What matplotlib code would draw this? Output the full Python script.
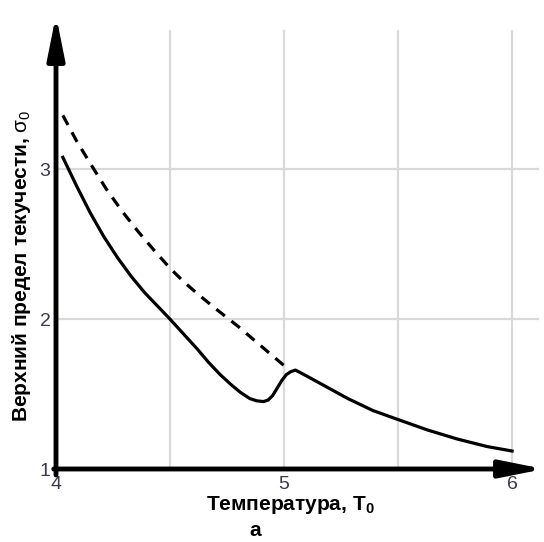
import matplotlib
matplotlib.use("Agg")
import matplotlib.pyplot as plt

# solid curve (upper yield stress)
solid_x = [4.03, 4.09, 4.15, 4.21, 4.27, 4.33, 4.39, 4.45, 4.5, 4.56, 4.62, 4.67, 4.72,
           4.77, 4.81, 4.85, 4.88, 4.91, 4.93, 4.95, 4.97, 4.99, 5.01, 5.03, 5.05,
           5.1, 5.16, 5.22, 5.28, 5.39, 5.5, 5.63, 5.76, 5.89, 6.0]
solid_y = [3.08, 2.89, 2.71, 2.55, 2.41, 2.285, 2.175, 2.08, 2.0, 1.90, 1.80, 1.71, 1.63,
           1.56, 1.51, 1.47, 1.455, 1.45, 1.46, 1.49, 1.54, 1.59, 1.63, 1.65, 1.66,
           1.62, 1.57, 1.52, 1.47, 1.39, 1.33, 1.26, 1.20, 1.15, 1.12]

# dashed curve
dashed_x = [4.03, 4.09, 4.15, 4.22, 4.29, 4.36, 4.43, 4.5, 4.56, 4.62, 4.7, 4.8, 4.9, 5.0]
dashed_y = [3.36, 3.19, 3.04, 2.87, 2.72, 2.585, 2.46, 2.34, 2.25, 2.17, 2.07, 1.95, 1.82, 1.69]

x_ticks = [4, 5, 6]
y_ticks = [1, 2, 3]
x_grid = [4.5, 5, 5.5, 6]
y_grid = [2, 3]

plt.rcParams['font.family'] = ['Liberation Sans', 'DejaVu Sans']
plt.rcParams['mathtext.fontset'] = 'custom'
plt.rcParams['mathtext.rm'] = 'Liberation Sans'
plt.rcParams['mathtext.it'] = 'Liberation Sans:italic'
plt.rcParams['mathtext.bf'] = 'Liberation Sans:bold'


def draw():
    fig = plt.figure(figsize=(5.44, 5.42), dpi=100)
    ax = fig.add_axes([56 / 544, 73 / 542, 488 / 544, 454 / 542])
    ax.set_xlim(4, 6.14)
    ax.set_ylim(1, 4.03)

    # grid
    ax.vlines(x_grid, 1, 3.93, color='#d9d9d9', lw=1.6, zorder=0)
    ax.hlines(y_grid, 4, 6.12, color='#d9d9d9', lw=1.6, zorder=0)

    ax.plot(solid_x, solid_y, color='black', lw=2.3, solid_joinstyle='round')
    ax.plot(dashed_x, dashed_y, color='black', lw=2.3, dashes=(3.4, 2.6))

    for s in ax.spines.values():
        s.set_visible(False)

    # axes with arrows
    arrow = dict(arrowstyle='-|>,head_length=1.3,head_width=0.26', lw=3.5,
                 color='black', shrinkA=0, shrinkB=0, mutation_scale=20)
    ax.annotate('', xy=(4, 4.03), xytext=(4, 0.96), arrowprops=arrow, annotation_clip=False)
    ax.annotate('', xy=(6.14, 1), xytext=(3.99, 1), arrowprops=arrow, annotation_clip=False)

    ax.set_xticks(x_ticks)
    ax.set_yticks(y_ticks)
    ax.set_xticklabels([str(t) for t in x_ticks])
    ax.set_yticklabels([str(t) for t in y_ticks])
    ax.tick_params(axis='both', length=0, labelsize=14, colors='#3a3a4a')
    ax.tick_params(axis='x', pad=5)
    ax.tick_params(axis='y', pad=4)

    fig.text(290 / 544, 1 - 505 / 542, 'Температура, $\\mathbf{T_0}$', ha='center', va='center',
             fontsize=15, fontweight='bold')
    fig.text(22 / 544, 1 - 266 / 542, 'Верхний предел текучести, $\\mathrm{σ_0}$', ha='center',
             va='center', rotation=90, fontsize=15, fontweight='bold')
    fig.text(255 / 544, 1 - 531 / 542, 'а', ha='center', va='center', fontsize=15, fontweight='bold')

    fig.savefig('out.png', dpi=100)


def main():
    draw()


if __name__ == "__main__":
    main()
